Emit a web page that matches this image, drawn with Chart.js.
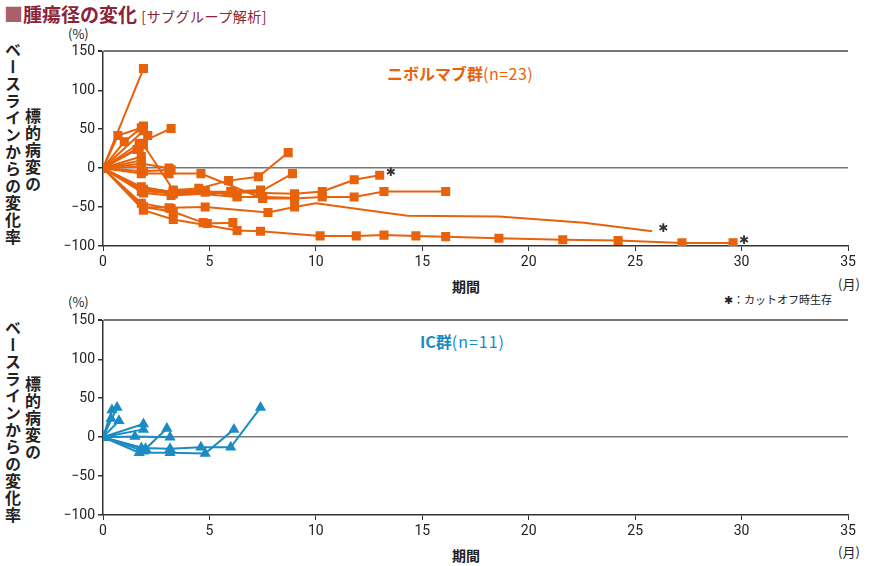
<!DOCTYPE html>
<html lang="ja">
<head>
<meta charset="UTF-8">
<title>腫瘍径の変化</title>
<script src="https://cdn.jsdelivr.net/npm/chart.js"></script>
<style>
  body { margin: 0; width: 870px; height: 566px; background: #fff; position: relative; overflow: hidden;
         font-family: "Noto Sans CJK JP", "Noto Sans", sans-serif; color: #222; }
  .abs { position: absolute; white-space: nowrap; }
  .vert { writing-mode: vertical-rl; font-size: 16px; font-weight: bold; letter-spacing: 1px; line-height: 1; }
  .box { position: absolute; left: 0; width: 870px; height: 230px; }
</style>
</head>
<body>
<div class="abs" style="left:4px;top:0px;font-size:19px;font-weight:bold;color:#8a2436;">
  <span style="color:#a8606a;">■</span>腫瘍径の変化 <span style="font-size:14px;font-weight:normal;letter-spacing:0.5px;">[サブグループ解析]</span>
</div>

<div class="abs" style="left:68px;top:24px;font-size:13px;">(%)</div>
<div class="abs vert" style="left:5px;top:42px;">ベースラインからの変化率</div>
<div class="abs vert" style="left:25px;top:108px;">標的病変の</div>
<div class="abs" style="left:452px;top:276px;font-size:14px;font-weight:bold;">期間</div>
<div class="abs" style="left:838px;top:274px;font-size:13px;">(月)</div>
<div class="abs" style="left:724px;top:291px;font-size:11px;">✱：カットオフ時生存</div>
<div class="abs" style="left:387px;top:61px;font-size:16px;font-weight:bold;color:#e8620c;">ニボルマブ群<span style="font-weight:normal;letter-spacing:0.5px;">(n=23)</span></div>

<div class="abs" style="left:68px;top:292px;font-size:13px;">(%)</div>
<div class="abs vert" style="left:5px;top:320px;">ベースラインからの変化率</div>
<div class="abs vert" style="left:25px;top:376px;">標的病変の</div>
<div class="abs" style="left:452px;top:545px;font-size:14px;font-weight:bold;">期間</div>
<div class="abs" style="left:838px;top:542px;font-size:13px;">(月)</div>
<div class="abs" style="left:420px;top:329px;font-size:16px;font-weight:bold;color:#1a8cc2;">IC群<span style="font-weight:normal;letter-spacing:1px;">(n=11)</span></div>

<div class="box" style="top:40px;"><canvas id="nivoChart"></canvas></div>
<div class="box" style="top:309px;"><canvas id="icChart"></canvas></div>

<script>
// 期間 (月), 変化率 (%)
const xTicks = [0, 5, 10, 15, 20, 25, 30, 35];
const yTicks = [-100, -50, 0, 50, 100, 150];

// ニボルマブ群: 患者ごとの [期間, 変化率]
const nivoPatients = [
  [[0,0],[1.9,128]],
  [[0,0],[0.7,42],[1.8,52]],
  [[0,0],[1.0,34],[1.9,54]],
  [[0,0],[1.7,26],[2.1,42]],
  [[0,0],[1.7,32],[3.2,51]],
  [[0,0],[1.9,30],[3.3,-28],[4.5,-26],[5.9,-16],[7.3,-11],[8.7,20]],
  [[0,0],[1.8,15]],
  [[0,0],[1.8,6],[3.1,0]],
  [[0,0],[1.8,-7],[3.1,-7],[4.6,-7],[7.5,-39],[9.0,-39],[10.3,-37],[11.8,-37],[13.2,-30],[16.1,-30]],
  [[0,0],[1.9,-29],[3.3,-33],[4.8,-31],[7.4,-30],[8.9,-7]],
  [[0,0],[1.9,-32],[3.2,-35],[6.1,-31],[9.0,-33],[10.3,-30],[11.8,-15],[13.0,-9]],
  [[0,0],[1.9,-50],[3.1,-51],[4.8,-50],[7.75,-57],[9.0,-50]],
  [[0,0],[1.9,-54],[3.3,-66],[6.3,-80],[7.4,-81],[10.2,-87],[11.9,-87],[13.2,-86],[14.7,-87],[16.1,-88],[18.6,-90],[21.6,-92],[24.2,-93],[27.2,-96],[29.6,-96]],
  [[0,0],[1.9,-50],[3.3,-56],[4.7,-70],[4.9,-71],[6.1,-70]],
  [[0,0],[1.9,-27],[3.3,-30],[6.3,-37],[7.5,-37],[9.0,-38]],
  [[0,0],[1.8,2]],
  [[0,0],[1.8,10]],
  [[0,0],[1.8,-24],[3.3,-31],[6.0,-30],[7.4,-28]],
  [[0,0],[1.8,-30],[4.8,-29],[6.3,-36]],
  [[0,0],[1.6,24]],
  [[0,0],[1.9,-4],[3.2,-2]],
  [[0,0],[1.8,-45],[3.2,-52]],
  [[0,0],[1.9,48]]
];
// マーカーなしで続く区間
const nivoUnmarked = [[9.0,-50],[10.0,-45],[14.3,-61],[18.6,-62],[22.6,-70],[25.8,-81]];
// カットオフ時生存 (✱)
const nivoAlive = [[13.0,-9],[25.8,-81],[29.6,-96]];

// IC群
const icPatients = [
  [[0,0],[0.42,35]],
  [[0,0],[0.66,38]],
  [[0,0],[0.38,24]],
  [[0,0],[0.75,21]],
  [[0,0],[1.9,17]],
  [[0,0],[1.9,10]],
  [[0,0],[1.5,1],[3.15,0]],
  [[0,0],[2.0,-15],[3.0,11]],
  [[0,0],[1.8,-14],[3.15,-15],[4.6,-13],[6.0,-13],[7.4,38]],
  [[0,0],[1.7,-20],[3.15,-20],[4.8,-21],[6.15,10]],
  [[0,0],[1.9,-18]]
];

const ORANGE = "#e8620c";
const BLUE = "#1a8cc2";

function toXY(arr) { return arr.map(p => ({ x: p[0], y: p[1] })); }

const asteriskPlugin = {
  id: "asterisk",
  afterDatasetsDraw(chart, args, opts) {
    if (!opts.points) return;
    const ctx = chart.ctx;
    ctx.save();
    ctx.fillStyle = "#333";
    ctx.font = "bold 12px 'DejaVu Sans'";
    ctx.textBaseline = "middle";
    opts.points.forEach(p => {
      const px = chart.scales.x.getPixelForValue(p[0]);
      const py = chart.scales.y.getPixelForValue(p[1]);
      ctx.fillText("✱", px + 6, py - 2);
    });
    ctx.restore();
  }
};

function makeChart(id, patients, color, pointStyle, radius, extra, alive) {
  const datasets = patients.map(p => ({
    data: toXY(p),
    borderColor: color,
    backgroundColor: color,
    borderWidth: 2,
    pointStyle: pointStyle,
    pointRadius: radius,
    showLine: true
  }));
  if (extra) {
    datasets.push({ data: toXY(extra), borderColor: color, borderWidth: 2, pointRadius: 0, showLine: true });
  }
  return new Chart(document.getElementById(id), {
    type: "scatter",
    data: { datasets: datasets },
    plugins: [asteriskPlugin],
    options: {
      responsive: true,
      maintainAspectRatio: false,
      animation: false,
      layout: { padding: { top: 10, right: 22, bottom: 0, left: 0 } },
      plugins: { legend: { display: false }, tooltip: { enabled: false }, asterisk: { points: alive } },
      scales: {
        x: {
          type: "linear", min: 0, max: 35,
          afterBuildTicks: s => { s.ticks = xTicks.map(v => ({ value: v })); },
          afterFit: s => { s.height = 24; },
          border: { color: "#333", width: 1.5 },
          grid: { drawOnChartArea: false, tickLength: 5, tickColor: "#333" },
          ticks: { color: "#222", font: { size: 14, family: "Roboto" }, padding: 3, maxRotation: 0 }
        },
        y: {
          min: -100, max: 150,
          afterBuildTicks: s => { s.ticks = yTicks.map(v => ({ value: v })); },
          afterFit: s => { s.width = 103; },
          border: { color: "#333", width: 1.5 },
          grid: {
            color: c => (c.tick && (c.tick.value === 0 || c.tick.value === 150)) ? "#777" : "transparent",
            lineWidth: c => (c.tick && c.tick.value === 150) ? 2 : 1.5,
            tickLength: 5, tickColor: "#333"
          },
          ticks: {
            color: "#222", font: { size: 14, family: "Roboto" }, padding: 3,
            callback: v => String(v).replace("-", "−")
          }
        }
      }
    }
  });
}

makeChart("nivoChart", nivoPatients, ORANGE, "rect", 5, nivoUnmarked, nivoAlive);
makeChart("icChart", icPatients, BLUE, "triangle", 4.5, null, null);
</script>
</body>
</html>
